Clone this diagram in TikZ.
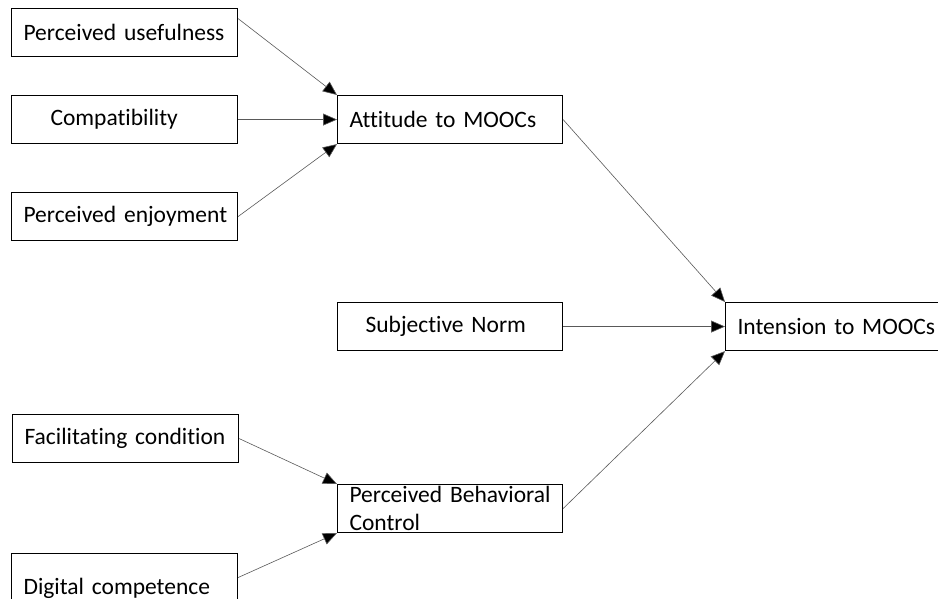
\documentclass[tikz,border=0pt]{standalone}
\usepackage{fontspec}
\setmainfont{Carlito}[Ligatures=CommonOff]
\usepackage{tikz}
\usetikzlibrary{arrows.meta}

\begin{document}
\begin{tikzpicture}[x=1pt, y=-1pt,
  caja/.style={draw, line width=1.1pt, anchor=north west, minimum height=48pt,
    text width=#1, inner xsep=12pt, inner ysep=0pt, align=left,
    font=\fontsize{23.5pt}{28pt}\selectfont},
  flecha/.style={line width=0.6pt, draw=black!65,
    -{Triangle[length=14pt, width=12pt, fill=black]}}]
  \useasboundingbox (0,0) rectangle (938,599);

  % Cajas de la izquierda
  \node[caja=202pt] (pu) at (11,8)   {Perceived usefulness};
  \node[caja=202pt] (comp) at (11,95) {\hspace*{27pt}Compatibility};
  \node[caja=202pt] (pe) at (11,192) {\mbox{Perceived enjoyment}};
  \node[caja=202pt] (fc) at (12,414) {Facilitating condition};
  \node[caja=202pt, minimum height=70pt] (dc) at (11,553) {Digital competence};

  % Cajas del centro
  \node[caja=201pt] (att) at (337,95)  {Attitude to MOOCs};
  \node[caja=201pt] (sn) at (337,302)  {\hspace*{16pt}Subjective Norm};
  \node[caja=201pt] (pbc) at (337,484) {Perceived\hfill Behavioral\\Control};

  % Caja de la derecha
  \node[caja=240pt] (int) at (725,302) {Intension to MOOCs};

  % Flechas
  \draw[flecha] (pu.7) -- (att.north west);
  \draw[flecha] (comp.east) -- (att.west);
  \draw[flecha] (pe.east) -- (att.south west);
  \draw[flecha] (fc.east) -- (pbc.north west);
  \draw[flecha] ([yshift=11pt]dc.east) -- (pbc.south west);
  \draw[flecha] (att.east) -- (int.north west);
  \draw[flecha] (sn.east) -- (int.west);
  \draw[flecha] (pbc.east) -- (int.south west);

\end{tikzpicture}
\end{document}
